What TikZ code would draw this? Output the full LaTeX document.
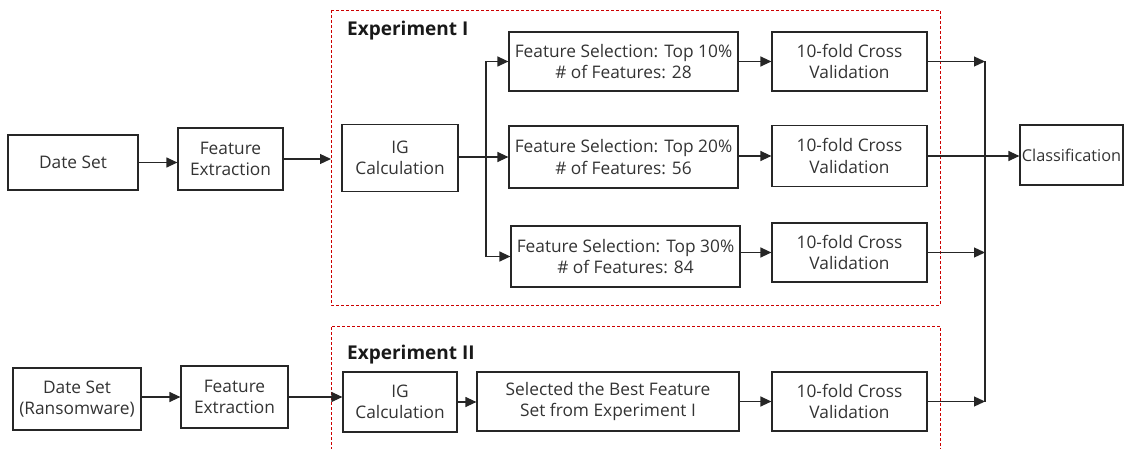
\documentclass[tikz,border=0pt]{standalone}
\usepackage{fontspec}
\setmainfont{Open Sans}
\usetikzlibrary{arrows.meta,calc}
\begin{document}
\begin{tikzpicture}[x=1pt,y=-1pt,
  box/.style={draw=black!85, line width=1.2pt, align=center, inner sep=0pt,
    font=\fontsize{17.3}{21.5}\selectfont, text=black!80},
  flow/.style={draw=black!85, line width=1.2pt, -{Triangle[length=11pt,width=10pt]}},
  wire/.style={draw=black!85, line width=1.2pt},
  expframe/.style={draw=red!80!black, dash pattern=on 3pt off 2pt, line width=0.8pt},
  exptitle/.style={font=\bfseries\fontsize{19}{21}\selectfont, anchor=base west, inner sep=0pt, text=black!90}]

\useasboundingbox (0,0) rectangle (1126,449);

% experiment frames
\draw[expframe] (331,10) rectangle (940,305);
\draw[expframe] (331,470) -- (331,326) -- (940,326) -- (940,470);
\node[exptitle] (t1) at (347,36) {Experiment I};
\node[exptitle] (t2) at (347,359) {Experiment II};
\coordinate (e1w) at (331,0);
\coordinate (mx) at (985,0);
\coordinate (fork) at (486,0);

% Experiment I row
\node[box, minimum width=130pt, minimum height=55pt] (ds)  at (73,162.5) {Date Set};
\node[box, minimum width=105pt, minimum height=62pt] (fe1) at (230.5,159) {Feature\\Extraction};
\node[box, minimum width=116pt, minimum height=67pt] (ig1) at (400,158) {IG\\Calculation};
\node[box, minimum width=229pt, minimum height=59pt] (fs1) at (623.5,61.5) {Feature Selection: Top 10\%\\\# of Features: 28};
\node[box, minimum width=229pt, minimum height=62pt] (fs2) at (623.5,157) {Feature Selection: Top 20\%\\\# of Features: 56};
\node[box, minimum width=229pt, minimum height=61pt] (fs3) at (625.5,256.5) {Feature Selection: Top 30\%\\\# of Features: 84};
\node[box, minimum width=155pt, minimum height=59pt] (cv1) at (849.5,61.5) {10-fold Cross\\Validation};
\node[box, minimum width=155pt, minimum height=61pt] (cv2) at (849.5,156) {10-fold Cross\\Validation};
\node[box, minimum width=155pt, minimum height=59pt] (cv3) at (849.5,252.5) {10-fold Cross\\Validation};
\node[box, minimum width=103pt, minimum height=60pt, font=\fontsize{16.3}{20}\selectfont] (cls) at (1071.5,155) {Classification};

% Experiment II row
\node[box, minimum width=128pt, minimum height=62pt] (dsr) at (77,399) {Date Set\\(Ransomware)};
\node[box, minimum width=107pt, minimum height=62pt] (fe2) at (234.5,397) {Feature\\Extraction};
\node[box, minimum width=114pt, minimum height=60pt] (ig2) at (400,402) {IG\\Calculation};
\node[box, minimum width=262pt, minimum height=59pt] (sel) at (608,401.5) {Selected the Best Feature\\Set from Experiment I};
\node[box, minimum width=155pt, minimum height=59pt] (cv4) at (849.5,401.5) {10-fold Cross\\Validation};

% connectors, Experiment I
\draw[flow] (ds.east) -- (ds.east -| fe1.west);
\draw[flow] (fe1.east) -- (fe1.east -| e1w);
\draw[flow] (ig1.east |- fs2.west) -- (fs2.west);
\draw[wire] (fork |- fs1.west) -- (fork |- fs3.west);
\draw[flow] (fork |- fs1.west) -- (fs1.west);
\draw[flow] (fork |- fs3.west) -- (fs3.west);
\draw[flow] (fs1.east) -- (cv1.west);
\draw[flow] (fs2.east |- cv2.west) -- (cv2.west);
\draw[flow] (fs3.east |- cv3.west) -- (cv3.west);
\draw[flow] (cv1.east) -- (cv1.east -| mx);
\draw[flow] (cv3.east) -- (cv3.east -| mx);
\draw[flow] (cv2.east) -- (cv2.east -| cls.west);

% connectors, Experiment II
\draw[flow] (dsr.east |- fe2.west) -- (fe2.west);
\draw[flow] (fe2.east) -- (fe2.east -| ig2.west);
\draw[flow] (ig2.east) -- (ig2.east -| sel.west);
\draw[flow] (sel.east) -- (cv4.west);
\draw[flow] (cv4.east) -- (cv4.east -| mx);
\draw[wire] (mx |- cv1.east) -- (mx |- cv4.east);
\end{tikzpicture}
\end{document}
